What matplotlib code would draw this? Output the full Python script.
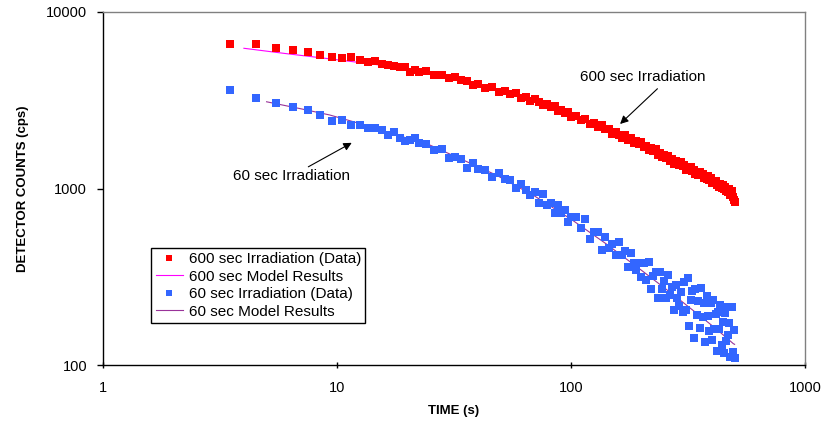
import matplotlib

matplotlib.use("Agg")

import matplotlib.pyplot as plt
from matplotlib.ticker import FixedLocator, FixedFormatter, NullLocator


# 测量时间 (s)，两组照射数据共用同一组时间点
TIME = [
    3.5, 4.5, 5.5, 6.5, 7.5, 8.5, 9.5, 10.5, 11.5, 12.5,
    13.5, 14.5, 15.5, 16.5, 17.5, 18.5, 19.5, 20.5, 21.5, 22.5,
    24, 26, 28, 30, 32, 34, 36, 38, 40,
    43, 46, 49, 52, 55, 58, 61, 64, 67, 70,
    73, 76, 79, 82, 85, 88, 91, 94, 97, 100,
    105, 110, 115, 120, 125, 130, 135, 140, 145, 150,
    155, 160, 165, 170, 175, 180, 185, 190, 195, 200,
    205, 210, 215, 220, 225, 230, 235, 240, 245, 250,
    255, 260, 265, 270, 275, 280, 285, 290, 295, 300,
    305, 310, 315, 320, 325, 330, 335, 340, 345, 350,
    355, 360, 365, 370, 375, 380, 385, 390, 395, 400,
    405, 410, 415, 420, 425, 430, 435, 440, 445, 450,
    455, 460, 465, 470, 475, 480, 485, 490, 495, 500,
]

# 600 秒照射的探测计数 (cps)
COUNTS_600 = [
    6560, 6560, 6230, 6090, 5910, 5730, 5580, 5510, 5530, 5370,
    5230, 5260, 5060, 5030, 4970, 4860, 4850, 4590, 4700, 4590,
    4640, 4420, 4420, 4210, 4290, 4120, 4070, 3860, 3930,
    3720, 3740, 3510, 3550, 3410, 3470, 3270, 3280, 3130, 3200,
    3080, 2960, 3020, 2880, 2935, 2735, 2770, 2670, 2700, 2550,
    2585, 2450, 2470, 2315, 2340, 2225, 2290, 2160, 2160, 2040,
    2100, 2020, 1945, 2005, 1895, 1930, 1805, 1850, 1780, 1830,
    1715, 1740, 1645, 1705, 1625, 1665, 1555, 1580, 1500, 1555,
    1490, 1530, 1435, 1460, 1380, 1440, 1395, 1350, 1405, 1335,
    1360, 1280, 1320, 1265, 1320, 1250, 1280, 1210, 1240, 1195,
    1245, 1185, 1210, 1140, 1170, 1125, 1175, 1120, 1140, 1075,
    1110, 1070, 1110, 1050, 1065, 1015, 1060, 1010, 1050, 1000,
    1025, 965, 995, 960, 1000, 920, 965, 900, 865, 840,
]

# 60 秒照射的探测计数 (cps)
COUNTS_60 = [
    3610, 3270, 3060, 2905, 2785, 2610, 2420, 2445, 2290, 2290,
    2210, 2200, 2140, 2010, 2100, 1920, 1860, 1880, 1920, 1800,
    1790, 1645, 1685, 1490, 1500, 1465, 1310, 1390, 1285,
    1265, 1155, 1220, 1125, 1120, 1010, 1060, 980, 920, 950,
    830, 925, 810, 825, 725, 810, 725, 755, 650, 690,
    690, 595, 670, 520, 565, 565, 450, 530, 460, 485,
    420, 495, 420, 440, 360, 430, 380, 345, 380, 315,
    380, 305, 385, 270, 320, 335, 240, 335, 270, 300,
    240, 325, 250, 275, 205, 285, 240, 215, 260, 200,
    295, 205, 310, 167, 235, 263, 143, 268, 192, 229,
    163, 274, 187, 226, 135, 246, 190, 156, 224, 139,
    233, 159, 195, 120, 200, 159, 219, 130, 175, 117,
    197, 137, 213, 147, 173, 111, 212, 118, 157, 110,
]

# 模型计算结果
MODEL_600_TIME = [4, 6, 9.6, 15, 25, 48, 74, 102, 142, 197, 274, 380, 478, 500]
MODEL_600_COUNTS = [6230, 5820, 5400, 5020, 4500, 3610, 3060, 2570, 2160, 1790, 1430, 1150, 965, 933]

MODEL_60_TIME = [5, 7, 9.3, 13, 18, 25, 35, 48, 70, 100, 140, 200, 278, 350, 420, 494, 500]
MODEL_60_COUNTS = [3100, 2830, 2610, 2300, 2010, 1760, 1440, 1190, 905, 670, 490, 344, 246, 193, 159, 132, 131]

X_TICKS = [1, 10, 100, 1000]
Y_TICKS = [100, 1000, 10000]

RED = "#FF0000"
BLUE = "#3366FF"
MAGENTA = "#FF00FF"
PURPLE = "#993399"


def main():
    plt.rcParams["font.family"] = ["Liberation Sans", "DejaVu Sans"]

    fig = plt.figure(figsize=(8.24, 4.21), dpi=100)
    ax = fig.add_axes([0.125, 0.133, 0.852, 0.8385])

    # 先画模型曲线，数据点盖在上面
    line600, = ax.plot(MODEL_600_TIME, MODEL_600_COUNTS, color=MAGENTA, lw=0.8, zorder=2)
    line60, = ax.plot(MODEL_60_TIME, MODEL_60_COUNTS, color=PURPLE, lw=0.8, zorder=2)
    pts600, = ax.plot(TIME, COUNTS_600, ls="none", marker="s", ms=5.8, mew=0,
                      color=RED, zorder=3)
    pts60, = ax.plot(TIME, COUNTS_60, ls="none", marker="s", ms=5.8, mew=0,
                     color=BLUE, zorder=3)

    ax.set_xscale("log")
    ax.set_yscale("log")
    ax.set_xlim(1, 1000)
    ax.set_ylim(100, 10000)

    ax.xaxis.set_major_locator(FixedLocator(X_TICKS))
    ax.xaxis.set_major_formatter(FixedFormatter([str(v) for v in X_TICKS]))
    ax.yaxis.set_major_locator(FixedLocator(Y_TICKS))
    ax.yaxis.set_major_formatter(FixedFormatter([str(v) for v in Y_TICKS]))
    ax.xaxis.set_minor_locator(NullLocator())
    ax.yaxis.set_minor_locator(NullLocator())

    ax.tick_params(axis="x", direction="inout", length=5, width=1, pad=9, labelsize=10.5)
    ax.tick_params(axis="y", direction="out", length=4.5, width=1, pad=7, labelsize=10.5)

    for side in ("left", "bottom"):
        ax.spines[side].set_color("black")
        ax.spines[side].set_linewidth(1.0)
    for side in ("top", "right"):
        ax.spines[side].set_color("#808080")
        ax.spines[side].set_linewidth(1.0)

    ax.set_xlabel("TIME (s)", fontsize=9.5, fontweight="bold", labelpad=7)
    ax.set_ylabel("DETECTOR COUNTS (cps)", fontsize=9.5, fontweight="bold", labelpad=12)

    # 曲线标注
    ax.text(202, 4280, "600 sec Irradiation", fontsize=11, ha="center", va="center")
    ax.annotate("", xy=(162, 2320), xytext=(234, 3675),
                arrowprops=dict(arrowstyle="-|>", color="black", lw=0.8,
                                mutation_scale=12, shrinkA=0, shrinkB=0))
    ax.text(6.36, 1183, "60 sec Irradiation", fontsize=11, ha="center", va="center")
    ax.annotate("", xy=(11.56, 1815), xytext=(7.54, 1327),
                arrowprops=dict(arrowstyle="-|>", color="black", lw=0.8,
                                mutation_scale=12, shrinkA=0, shrinkB=0))

    leg = ax.legend(
        [pts600, line600, pts60, line60],
        ["600 sec Irradiation (Data)", "600 sec Model Results",
         "60 sec Irradiation (Data)", "60 sec Model Results"],
        loc="upper left", bbox_to_anchor=(0.069, 0.331), borderaxespad=0,
        fontsize=11, fancybox=False, framealpha=1, edgecolor="black",
        handlelength=1.8, handletextpad=0.35, labelspacing=0.22, borderpad=0.28,
        markerscale=0.75,
    )
    leg.get_frame().set_linewidth(1.0)

    fig.savefig("out.png", dpi=100, facecolor="white")
    plt.close(fig)


if __name__ == "__main__":
    main()
